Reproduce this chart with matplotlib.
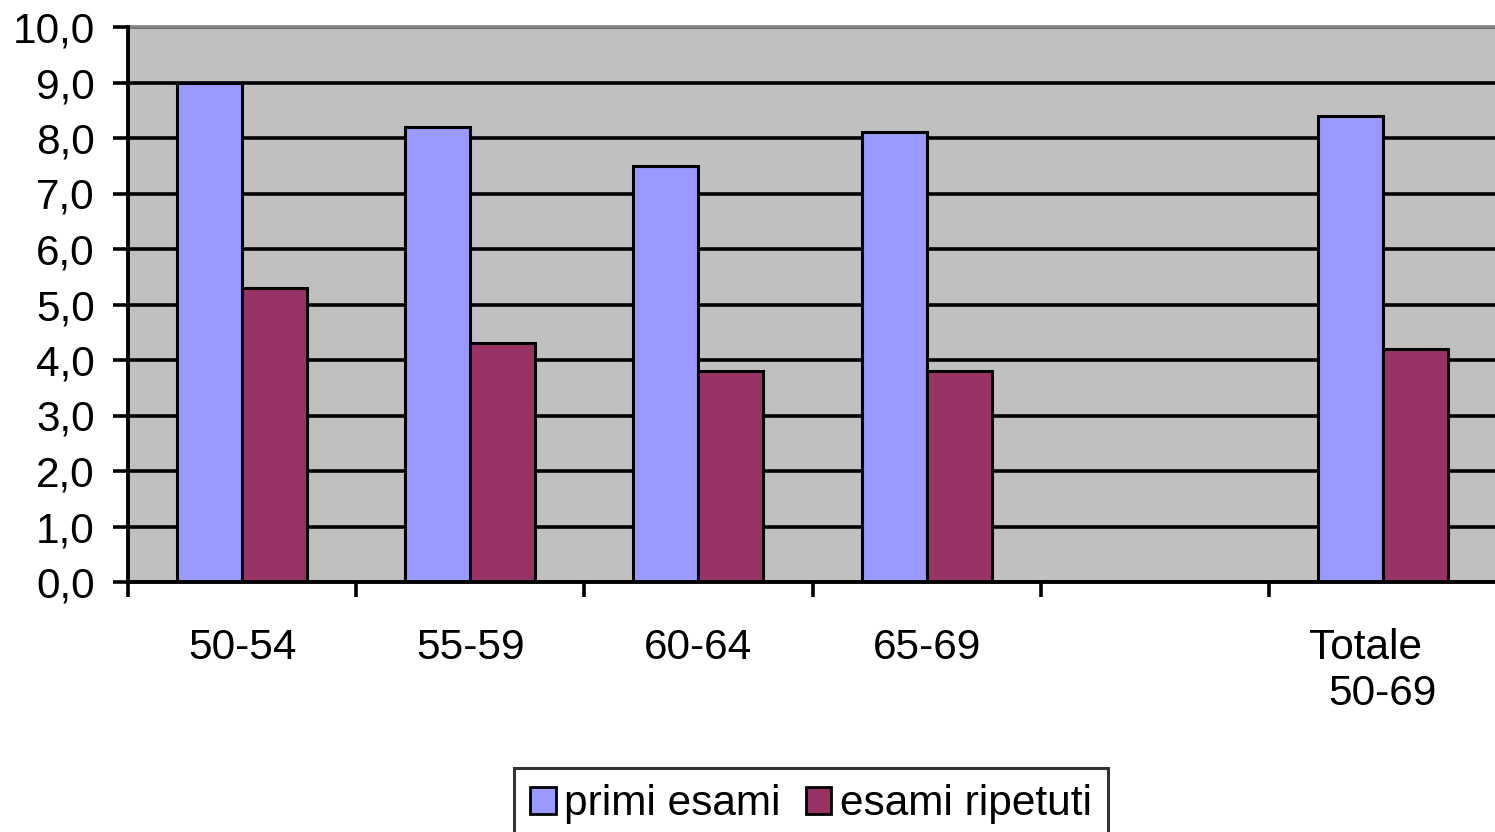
import matplotlib
matplotlib.use("Agg")
import matplotlib.pyplot as plt
from matplotlib.ticker import FuncFormatter, FixedLocator
import numpy as np

categories = ["50-54", "55-59", "60-64", "65-69", "", "Totale   \n50-69"]
primi_esami = [9.0, 8.2, 7.5, 8.1, None, 8.4]
esami_ripetuti = [5.3, 4.3, 3.8, 3.8, None, 4.2]
series_names = ["primi esami", "esami ripetuti"]
yticks = [0, 1, 2, 3, 4, 5, 6, 7, 8, 9, 10]

plt.rcParams['font.family'] = ['Liberation Sans', 'DejaVu Sans']
FS = 30.5

W, H, DPI = 1495, 832, 100
fig = plt.figure(figsize=(W / DPI, H / DPI), dpi=DPI)
ax = fig.add_axes([128 / W, 1 - 582 / H, (1497 - 128) / W, (582 - 27) / H])
ax.set_facecolor('#C0C0C0')

x = np.arange(len(categories))
bw = 0.285
idx = [i for i, v in enumerate(primi_esami) if v is not None]
p = [primi_esami[i] for i in idx]
r = [esami_ripetuti[i] for i in idx]
xi = np.array(idx)
ax.bar(xi - bw / 2, p, width=bw, color='#9999FF', edgecolor='black', linewidth=2.2,
       label=series_names[0], zorder=3)
ax.bar(xi + bw / 2, r, width=bw, color='#993366', edgecolor='black', linewidth=2.2,
       label=series_names[1], zorder=3)

ax.set_ylim(0, 10)
ax.set_xlim(-0.5, len(categories) - 0.5)
ax.set_yticks(yticks)
ax.yaxis.set_major_formatter(FuncFormatter(lambda v, pos: f"{v:.1f}".replace('.', ',')))
ax.grid(axis='y', color='black', linewidth=2.6, zorder=1)
ax.set_axisbelow(True)

ax.xaxis.set_major_locator(FixedLocator(np.arange(-0.5, len(categories), 1.0)))
ax.xaxis.set_major_formatter(FuncFormatter(lambda v, pos: ""))
ax.xaxis.set_minor_locator(FixedLocator(x))
ax.set_xticklabels(categories, minor=True)
ax.tick_params(axis='x', which='minor', length=0, pad=33, labelsize=FS)
ax.tick_params(axis='x', which='major', direction='out', length=11, width=2.6, color='black')
ax.tick_params(axis='y', direction='out', length=11, width=2.6, labelsize=FS, pad=13)

for s in ['left', 'bottom']:
    ax.spines[s].set_color('black')
    ax.spines[s].set_linewidth(2.8)
ax.spines['top'].set_color('#808080')
ax.spines['top'].set_linewidth(2.6)
ax.spines['right'].set_visible(False)
ax.spines['left'].set_zorder(5)
ax.spines['bottom'].set_zorder(5)

leg = fig.legend(loc='upper center', bbox_to_anchor=(811 / W, 1 - 768 / H), ncol=2,
                 fontsize=FS, frameon=True, fancybox=False, edgecolor='black',
                 handlelength=0.6, handleheight=0.6, handletextpad=0.2,
                 columnspacing=0.6, borderpad=0.38, borderaxespad=0)
leg.get_frame().set_linewidth(2.2)
for h in leg.legend_handles:
    h.set_linewidth(2.0)

fig.savefig('out.png', dpi=DPI)
